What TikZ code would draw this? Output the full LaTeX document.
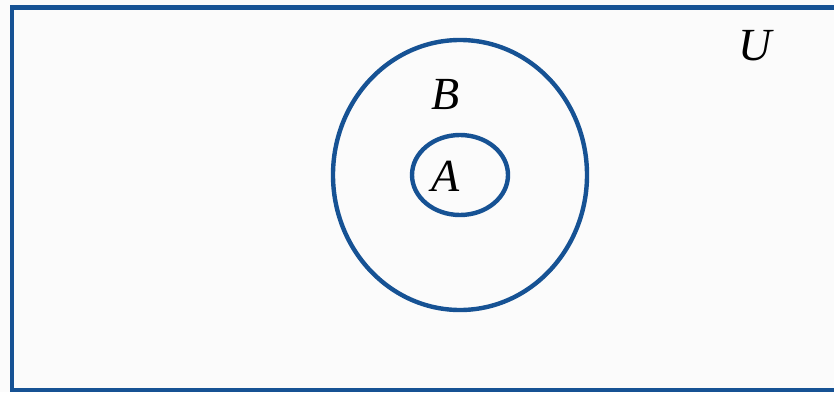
\documentclass[tikz,border=0pt]{standalone}
\usepackage{fontspec}
\setmainfont{Liberation Serif}
\usetikzlibrary{shapes.geometric}
\definecolor{setblue}{RGB}{22,82,148}
\definecolor{bgpaper}{RGB}{251,251,251}
\tikzset{
  setline/.style={draw=setblue, line width=4.4pt},
  setoval/.style={setline, ellipse, inner sep=0pt},
  setlabel/.style={inner sep=0pt, font=\fontsize{46}{50}\selectfont\itshape}
}
\begin{document}
\begin{tikzpicture}[x=1pt,y=1pt]
\useasboundingbox (0,0) rectangle (834,392);
\fill[bgpaper] (0,0) rectangle (834,392);
\draw[setline] (840,2) -- (12,2) -- (12,384.5) -- (840,384.5);
\node[setoval, minimum width=254pt, minimum height=270pt] (B) at (460,217) {};
\node[setoval, minimum width=96pt, minimum height=80pt] (A) at (460,217) {};
\node[setlabel] (labA) at (446,216) {A};
\node[setlabel] (labB) at (446,297) {B};
\node[setlabel] (labU) at (755,346) {U};
\end{tikzpicture}
\end{document}
